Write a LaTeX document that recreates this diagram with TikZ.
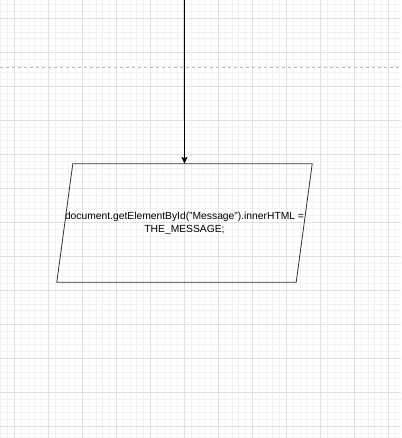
\documentclass[tikz,border=0pt]{standalone}
\usepackage{fontspec}
\setmainfont{Liberation Sans}
\usepackage{tikz}
\usetikzlibrary{arrows.meta,positioning}
\definecolor{GridMajor}{HTML}{E0E0E0}
\definecolor{GridMinor}{HTML}{F2F2F2}
\definecolor{PageBreak}{HTML}{BDBDBD}
\definecolor{Ink}{HTML}{333333}

\begin{document}
\begin{tikzpicture}[
  x=1pt,y=-1pt,
  minorline/.style={draw=GridMinor,line width=0.6pt},
  majorline/.style={draw=GridMajor,line width=0.8pt},
  pagebreak/.style={draw=PageBreak,line width=0.8pt,dash pattern=on 3pt off 3pt},
  inout/.style={minimum width=239pt,minimum height=118pt,align=center,inner sep=0pt,
    font=\fontsize{10.3}{12.6}\selectfont},
  outline/.style={draw=Ink,line width=0.8pt,line join=miter},
  arrow/.style={-{Stealth[length=7pt,width=6pt,inset=1.5pt]},draw=black,line width=0.9pt}
]
\useasboundingbox[fill=white] (0,0) rectangle (401,438);
% background grid
\foreach \i in {0,...,58}
  \draw[minorline] (0.7+6.8*\i,0) -- (0.7+6.8*\i,438);
\foreach \j in {0,...,63}
  \draw[minorline] (0,4.7+6.8*\j) -- (401,4.7+6.8*\j);
\foreach \i in {0,...,11}
  \draw[majorline] (14.3+34*\i,0) -- (14.3+34*\i,438);
\foreach \j in {0,...,12}
  \draw[majorline] (0,18.3+34*\j) -- (401,18.3+34*\j);
\draw[pagebreak] (0,67.3) -- (401,67.3);
% flow
\coordinate (entry) at (184.3,0);
\node[inout] (setmsg) at (184.5,223) {document.getElementById("Message").innerHTML =\\THE\_MESSAGE;};
\draw[outline] ([xshift=8pt]setmsg.north west) -- ([xshift=8pt]setmsg.north east)
  -- ([xshift=-8pt]setmsg.south east) -- ([xshift=-8pt]setmsg.south west) -- cycle;
\draw[arrow] (entry) -- (setmsg.north);
\end{tikzpicture}
\end{document}
